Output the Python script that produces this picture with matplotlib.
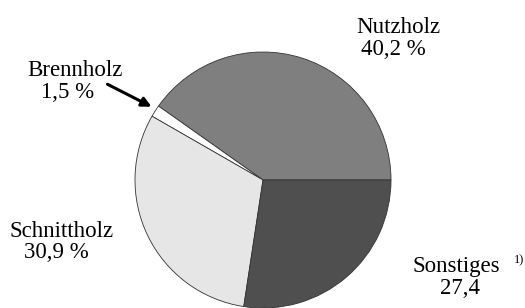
import matplotlib.pyplot as plt

plt.rcParams["font.family"] = ["Liberation Serif", "DejaVu Serif"]

labels = ["Nutzholz", "Brennholz", "Schnittholz", "Sonstiges"]
values = [40.2, 1.5, 30.9, 27.4]
value_texts = ["40,2 %", "1,5 %", "30,9 %", "27,4"]
colors = ["#7f7f7f", "#ffffff", "#e6e6e6", "#4f4f4f"]

W, H = 525, 308
fig = plt.figure(figsize=(W / 100, H / 100), dpi=100)
ax = fig.add_axes([0, 0, 1, 1])

ax.pie(values, colors=colors, startangle=0, counterclock=True,
       center=(263, H - 180), radius=128,
       wedgeprops=dict(edgecolor="#333333", linewidth=0.6))
ax.set_xlim(0, W)
ax.set_ylim(0, H)
ax.set_aspect("auto")
ax.axis("off")

# label positions in pixels from top-left, text baseline
fs = 16.5
def lab(x, y, s, size=fs, ha="center"):
    ax.text(x, H - y, s, ha=ha, va="baseline", fontsize=size)

lab(398, 33, labels[0])
lab(393, 55, value_texts[0])
lab(75, 76, labels[1])
lab(68, 98, value_texts[1])
lab(62, 237, labels[2])
lab(56, 258, value_texts[2])
lab(456, 272, labels[3])
lab(514, 263, "1)", size=9, ha="left")
lab(460, 294, value_texts[3])

ax.annotate("", xy=(154, H - 108), xytext=(105, H - 83),
            arrowprops=dict(arrowstyle="-|>", color="black", lw=2.2,
                            mutation_scale=14))

fig.savefig("out.png", dpi=100)
